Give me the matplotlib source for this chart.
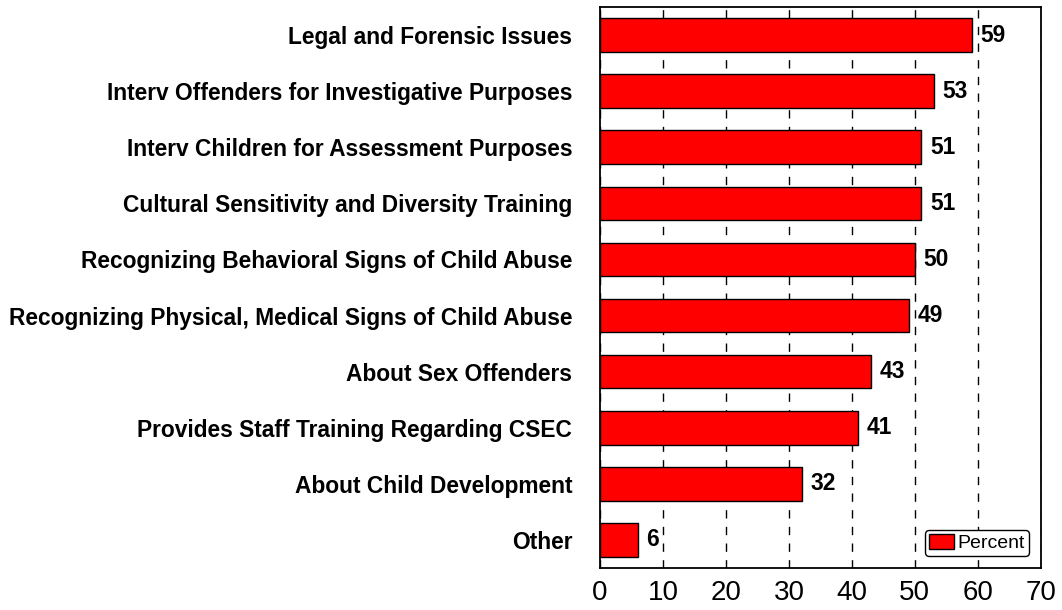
import matplotlib.pyplot as plt

categories = [
    "Legal and Forensic Issues",
    "Interv Offenders for Investigative Purposes",
    "Interv Children for Assessment Purposes",
    "Cultural Sensitivity and Diversity Training",
    "Recognizing Behavioral Signs of Child Abuse",
    "Recognizing Physical, Medical Signs of Child Abuse",
    "About Sex Offenders",
    "Provides Staff Training Regarding CSEC",
    "About Child Development",
    "Other",
]
percent = [59, 53, 51, 51, 50, 49, 43, 41, 32, 6]
xticks = [0, 10, 20, 30, 40, 50, 60, 70]

plt.rcParams['font.family'] = ['Liberation Sans', 'DejaVu Sans']

fig = plt.figure(figsize=(10.62, 6.10), dpi=100)
ax = fig.add_axes([0.565, 0.069, 0.415, 0.9195])

ypos = list(range(len(categories)))
ax.barh(ypos, percent, height=0.6, color='#ff0000', edgecolor='black',
        linewidth=1, label='Percent', zorder=3)

for y, v in zip(ypos, percent):
    ax.text(v + 1.4, y, str(v), va='center', ha='left', fontsize=16.4,
            fontweight='bold', zorder=4)

ax.set_xlim(0, 70)
ax.set_ylim(len(categories) - 0.5, -0.5)
ax.set_xticks(xticks)
ax.set_xticklabels([str(t) for t in xticks], fontsize=20)
ax.set_yticks(ypos)
ax.set_yticklabels(categories, fontsize=16.4, fontweight='bold')
ax.tick_params(axis='y', length=0, pad=20)
ax.tick_params(axis='x', length=0, pad=9)

ax.grid(axis='x', linestyle=(0, (6, 6)), color='black', linewidth=1, zorder=0)
for s in ax.spines.values():
    s.set_linewidth(1.3)

leg = ax.legend(loc='lower right', fontsize=14, fancybox=True, framealpha=1,
                edgecolor='black', handlelength=1.3, handleheight=0.8,
                handletextpad=0.2, borderpad=0.2, borderaxespad=0.6)
leg.get_frame().set_linewidth(1)

fig.savefig('out.png', dpi=100)
